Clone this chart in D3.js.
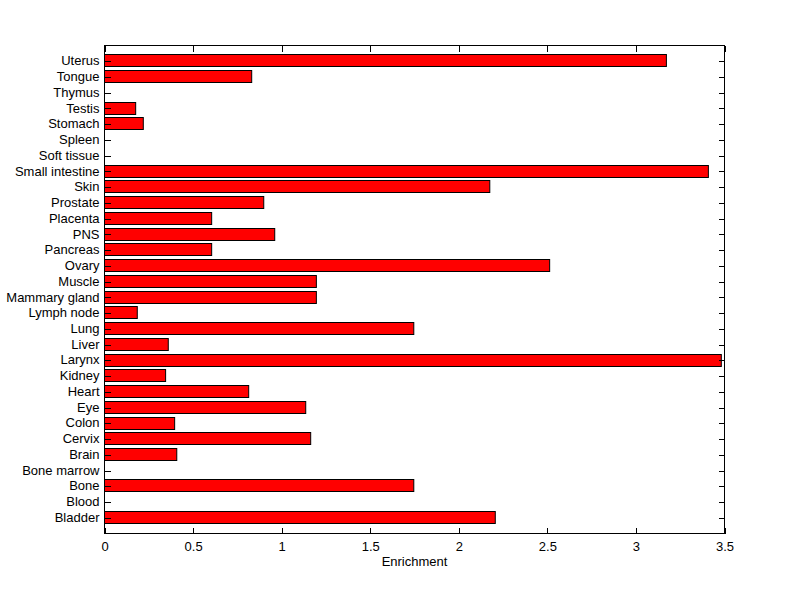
<!DOCTYPE html>
<html><head><meta charset="utf-8">
<script src="https://cdn.jsdelivr.net/npm/d3@7"></script>
<style>body{margin:0;background:#fff}svg{display:block}text{font-family:"Liberation Sans",Arial,sans-serif;fill:#000}</style>
</head><body><svg id="c" width="800" height="599"></svg>
<script>
// categories bottom-to-top
const categories = ["Bladder","Blood","Bone","Bone marrow","Brain","Cervix","Colon","Eye","Heart","Kidney","Larynx","Liver","Lung","Lymph node","Mammary gland","Muscle","Ovary","Pancreas","PNS","Placenta","Prostate","Skin","Small intestine","Soft tissue","Spleen","Stomach","Testis","Thymus","Tongue","Uterus"];
const values = [2.206,0,1.746,0,0.408,1.164,0.396,1.136,0.814,0.345,3.482,0.360,1.746,0.185,1.196,1.196,2.513,0.605,0.961,0.605,0.899,2.175,3.409,0,0,0.219,0.176,0,0.831,3.172];
const xTicks = [0,0.5,1,1.5,2,2.5,3,3.5];
const xTickLabels = ["0","0.5","1","1.5","2","2.5","3","3.5"];
const xLabel = "Enrichment";

const svg = d3.select("#c");
const L=104.5,R=724.5,T=45.5,B=533.5;
const x = d3.scaleLinear().domain([0,3.5]).range([L,R]);
const y = d3.scaleLinear().domain([0,categories.length+1]).range([B,T]);
const bw = (y(0)-y(1))*0.8;

// bars
svg.append("g").selectAll("rect").data(values.map((v,i)=>({v,i}))).join("rect")
  .filter(d=>d.v>0)
  .attr("x",x(0)).attr("y",d=>Math.floor(y(d.i+1)-bw/2)+0.5)
  .attr("width",d=>x(d.v)-x(0)).attr("height",Math.round(bw)-1)
  .attr("fill","#ff0000").attr("stroke","#000").attr("stroke-width",1);

// box
svg.append("rect").attr("x",L).attr("y",T).attr("width",R-L).attr("height",B-T)
  .attr("fill","none").attr("stroke","#000").attr("stroke-width",1).attr("shape-rendering","crispEdges");

const tk=6;
const xb = svg.append("g").attr("transform",`translate(0,${B})`)
  .call(d3.axisBottom(x).tickValues(xTicks).tickFormat((d,i)=>xTickLabels[i]).tickSize(-tk).tickPadding(8));
const xt = svg.append("g").attr("transform",`translate(0,${T})`)
  .call(d3.axisTop(x).tickValues(xTicks).tickFormat("").tickSize(-tk));
const yl = svg.append("g").attr("transform",`translate(${L},0)`)
  .call(d3.axisLeft(y).tickValues(d3.range(1,categories.length+1)).tickFormat(d=>categories[d-1]).tickSize(-tk).tickPadding(5));
const yr = svg.append("g").attr("transform",`translate(${R},0)`)
  .call(d3.axisRight(y).tickValues(d3.range(1,categories.length+1)).tickFormat("").tickSize(-tk));
[xb,xt,yl,yr].forEach(g=>{
  g.select(".domain").remove();
  g.selectAll("line").attr("stroke","#000").attr("shape-rendering","crispEdges");
  g.selectAll("text").style("font-size","13px").attr("fill","#000").style("font-family",'"Liberation Sans",Arial,sans-serif');
});
yl.selectAll("text").attr("dy","0.28em");

svg.append("text").attr("x",(L+R)/2).attr("y",566).attr("text-anchor","middle")
  .style("font-size","13px").text(xLabel);
</script></body></html>
